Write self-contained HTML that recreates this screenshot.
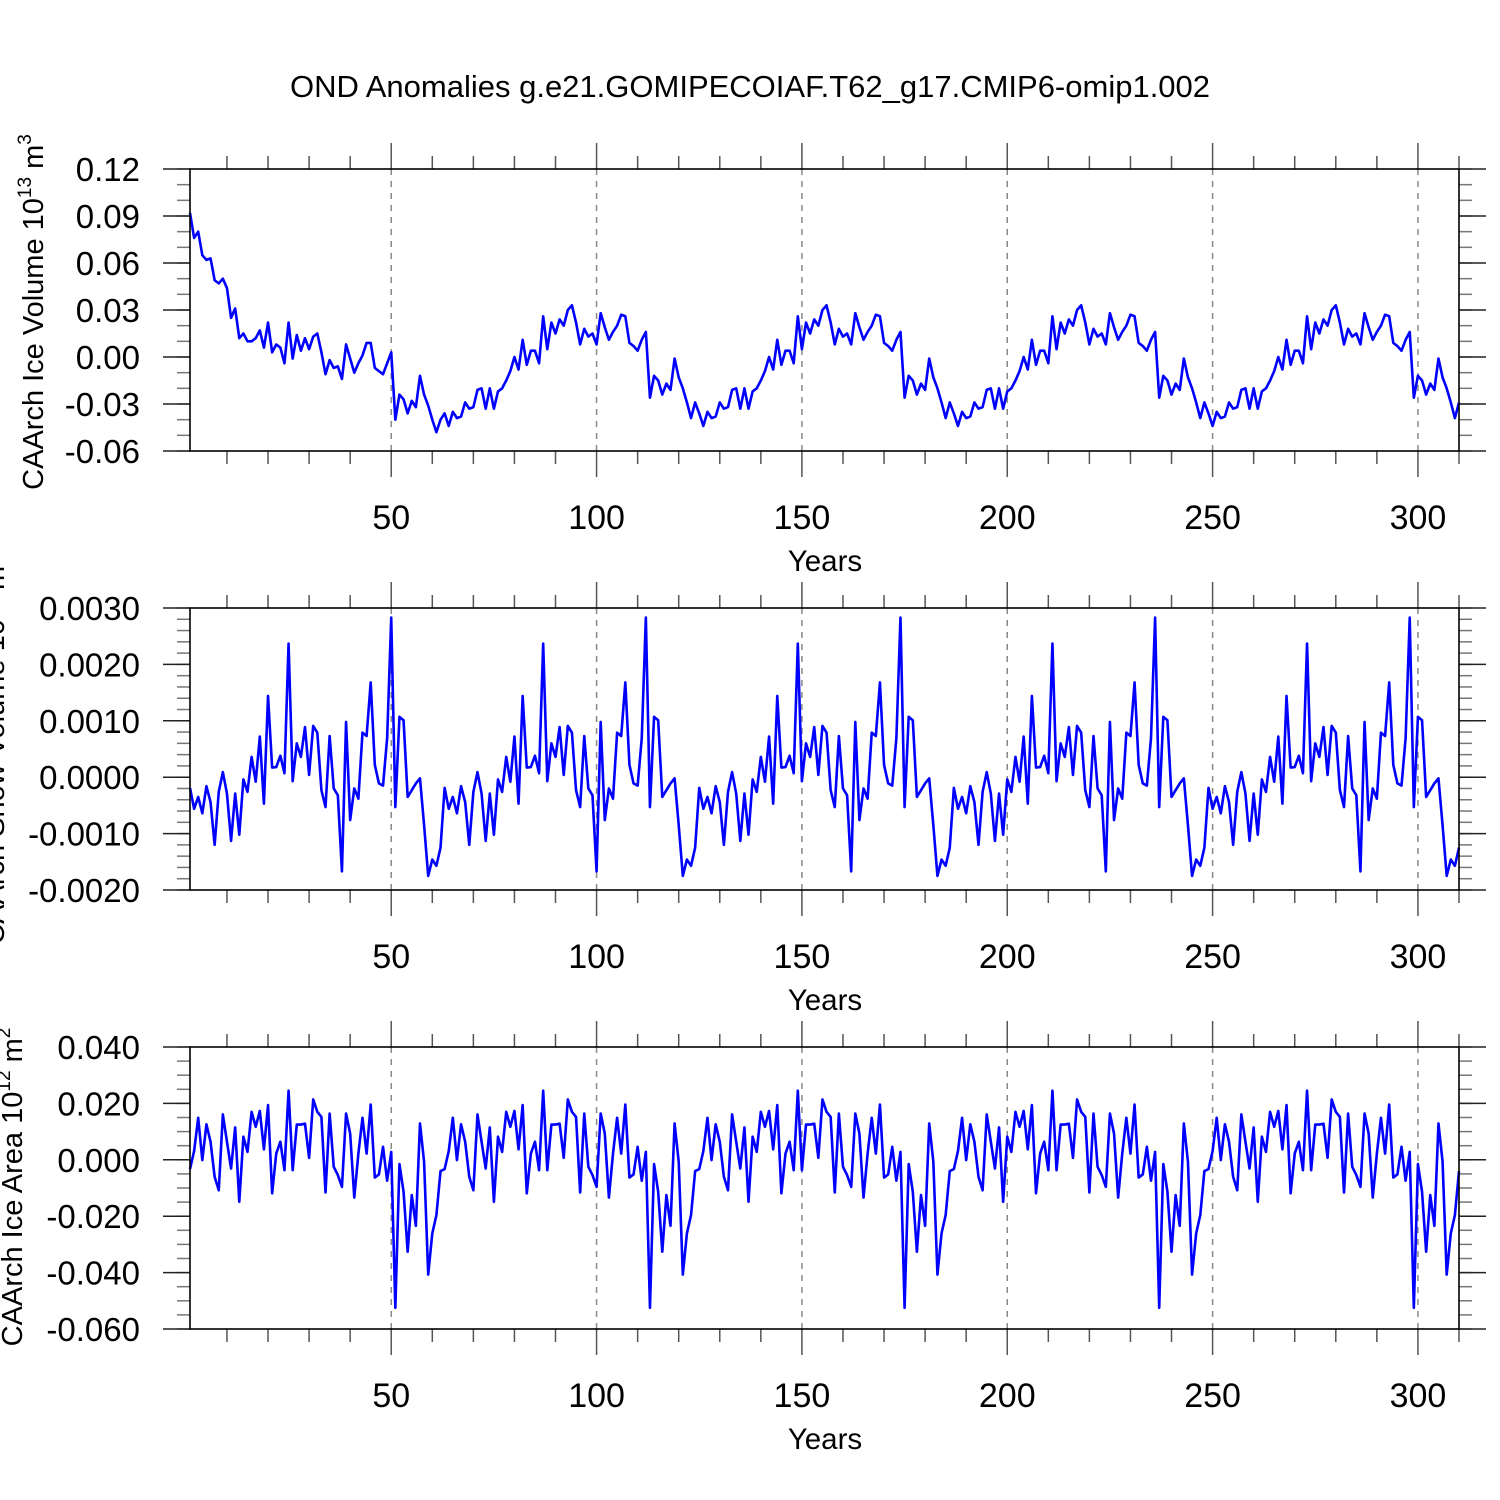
<!DOCTYPE html>
<html><head><meta charset="utf-8"><style>
html,body{margin:0;padding:0;background:#fff;}
svg{display:block;font-family:"Liberation Sans",Arial,sans-serif;}
</style></head><body>
<svg id="chart" width="1500" height="1500" viewBox="0 0 1500 1500" xmlns="http://www.w3.org/2000/svg">
<rect width="1500" height="1500" fill="#fff"/>
<text x="750" y="97" text-anchor="middle" font-size="31" fill="#000">OND Anomalies g.e21.GOMIPECOIAF.T62_g17.CMIP6-omip1.002</text>
</svg>
<script>
// ---- data ----
const years = Array.from({length:310},(_,i)=>i+1);
// Panel 1: ice volume (1e13 m^3), cycle 1 (years 1-62) and cycle 2 (years 63-124)
const iceVolCycle1 = [0.092,0.076,0.080,0.065,0.062,0.063,0.049,0.047,0.050,0.044,0.025,0.031,0.012,0.015,0.010,0.010,0.012,0.017,0.006,0.022,0.003,0.008,0.006,-0.004,0.022,-0.001,0.014,0.004,0.012,0.005,0.013,0.015,0.003,-0.011,-0.002,-0.007,-0.006,-0.014,0.008,-0.001,-0.010,-0.004,0.001,0.009,0.009,-0.007,-0.009,-0.011,-0.004,0.003,-0.040,-0.024,-0.027,-0.036,-0.028,-0.032,-0.012,-0.024,-0.031,-0.040,-0.048,-0.040];
const iceVolCycle2 = [-0.036,-0.044,-0.035,-0.039,-0.038,-0.029,-0.033,-0.032,-0.021,-0.020,-0.033,-0.020,-0.033,-0.022,-0.020,-0.015,-0.009,0.000,-0.008,0.011,-0.005,0.004,0.004,-0.004,0.026,0.005,0.022,0.015,0.024,0.020,0.030,0.033,0.022,0.008,0.018,0.013,0.015,0.008,0.028,0.019,0.011,0.016,0.020,0.027,0.026,0.009,0.007,0.004,0.011,0.016,-0.026,-0.012,-0.015,-0.024,-0.017,-0.021,-0.001,-0.013,-0.020,-0.029,-0.039,-0.029];
const iceVolume = [...iceVolCycle1, ...iceVolCycle2, ...iceVolCycle2, ...iceVolCycle2, ...iceVolCycle2];
// Panel 2: snow volume (units of 0.001 * 1e13 m^3), 62-year forcing cycle
const snowCycle = [-0.19,-0.56,-0.35,-0.64,-0.16,-0.44,-1.20,-0.26,0.09,-0.29,-1.13,-0.29,-1.02,-0.04,-0.26,0.36,-0.08,0.72,-0.47,1.44,0.17,0.18,0.38,0.07,2.37,-0.07,0.60,0.36,0.89,0.04,0.91,0.79,-0.23,-0.53,0.73,-0.20,-0.32,-1.67,0.98,-0.76,-0.20,-0.38,0.79,0.73,1.68,0.22,-0.11,-0.15,0.69,2.83,-0.53,1.07,1.01,-0.35,-0.23,-0.11,-0.02,-0.85,-1.75,-1.46,-1.57,-1.25];
const snowVolume = [...snowCycle, ...snowCycle, ...snowCycle, ...snowCycle, ...snowCycle].map(v=>v*0.001);
// Panel 3: ice area (units of 0.01 * 1e12 m^2)
const areaCycle = [-0.33,0.31,1.49,-0.01,1.26,0.64,-0.60,-1.08,1.61,0.64,-0.31,1.15,-1.49,0.82,0.28,1.70,1.17,1.73,0.37,1.94,-1.19,0.22,0.64,-0.37,2.45,-0.37,1.25,1.25,1.28,0.07,2.14,1.70,1.52,-1.16,1.64,-0.25,-0.54,-0.96,1.64,0.93,-1.34,0.22,1.49,0.22,1.96,-0.63,-0.52,0.46,-0.74,0.28,-5.25,-0.15,-1.13,-3.26,-1.25,-2.34,1.29,-0.07,-4.07,-2.61,-1.96,-0.40];
const iceArea = [...areaCycle, ...areaCycle, ...areaCycle, ...areaCycle, ...areaCycle].map(v=>v*0.01);

const xTicks = [50,100,150,200,250,300];
const yTicks1 = [0.12,0.09,0.06,0.03,0.00,-0.03,-0.06];
const yLabels1 = ["0.12","0.09","0.06","0.03","0.00","-0.03","-0.06"];
const yTicks2 = [0.003,0.002,0.001,0,-0.001,-0.002];
const yLabels2 = ["0.0030","0.0020","0.0010","0.0000","-0.0010","-0.0020"];
const yTicks3 = [0.04,0.02,0,-0.02,-0.04,-0.06];
const yLabels3 = ["0.040","0.020","0.000","-0.020","-0.040","-0.060"];

const NS='http://www.w3.org/2000/svg';
const svg=document.getElementById('chart');
const L=190,R=1459,XMIN=1,XMAX=310;
function xs(v){return L+(v-XMIN)/(XMAX-XMIN)*(R-L);}
function mk(tag,attrs,parent){const e=document.createElementNS(NS,tag);for(const k in attrs)e.setAttribute(k,attrs[k]);(parent||svg).appendChild(e);return e;}

function panel(cfg){
  const g=mk('g',{});
  
  
  const T=cfg.top,B=cfg.bottom;
  const ys=v=>B-(v-cfg.ymin)/(cfg.ymax-cfg.ymin)*(B-T);
  xTicks.forEach(t=>{
    const gl=mk('line',{x1:xs(t),x2:xs(t),y1:T,y2:B,stroke:'#888','stroke-width':1.5,'stroke-dasharray':'6,6'},g);
    
    
  });
  for(let t=10;t<=310;t+=10){
    const major=t%50===0;
    const len=major?26:13;
    mk('line',{x1:xs(t),x2:xs(t),y1:T,y2:T-len,stroke:'#555','stroke-width':1.5},g);
    mk('line',{x1:xs(t),x2:xs(t),y1:B,y2:B+len,stroke:'#555','stroke-width':1.5},g);
  }
  for(let v=cfg.ymin;v<=cfg.ymax+1e-9;v+=cfg.minor){
    const y=ys(v);
    mk('line',{x1:L,x2:L-13,y1:y,y2:y,stroke:'#777','stroke-width':1.5},g);
    mk('line',{x1:R,x2:R+13,y1:y,y2:y,stroke:'#777','stroke-width':1.5},g);
  }
  cfg.yTicks.forEach((v,i)=>{
    const y=ys(v);
    mk('line',{x1:L,x2:L-27,y1:y,y2:y,stroke:'#222','stroke-width':1.5},g);
    mk('line',{x1:R,x2:R+27,y1:y,y2:y,stroke:'#222','stroke-width':1.5},g);
    const tx=mk('text',{x:140,y:y+12,'text-anchor':'end','font-size':33,fill:'#000'},g);
    tx.textContent=cfg.yLabels[i];
    
    
  });
  xTicks.forEach(t=>{
    const tx=mk('text',{x:xs(t),y:B+78,'text-anchor':'middle','font-size':34,fill:'#000'},g);
    tx.textContent=String(t);
    
    
  });
  const xt=mk('text',{x:825,y:B+120,'text-anchor':'middle','font-size':29.5,fill:'#000'},g);
  xt.textContent='Years';
  
  
  const d=cfg.data.map((v,i)=>(i?'L':'M')+xs(years[i]).toFixed(2)+','+ys(v).toFixed(2)).join('');
  const p=mk('path',{d:d,fill:'none',stroke:'#0000ff','stroke-width':2.6,'stroke-linejoin':'round'},g);
  
  
  const fr=mk('rect',{x:L,y:T,width:R-L,height:B-T,fill:'none',stroke:'#000','stroke-width':1.6},g);
  
  
  const yt=mk('text',{transform:`translate(${cfg.titleX},${cfg.titleY}) rotate(-90)`,'text-anchor':'middle','font-size':29,fill:'#000'},g);
  yt.innerHTML=cfg.title;
  
  
}

panel({name:'ice-volume-panel',top:169,bottom:451,ymin:-0.06,ymax:0.12,minor:0.01,yTicks:yTicks1,yLabels:yLabels1,data:iceVolume,
  titleX:43,titleY:312,title:'CAArch Ice Volume 10<tspan dy="-12" font-size="19">13</tspan><tspan dy="12"> m</tspan><tspan dy="-12" font-size="19">3</tspan>'});
panel({name:'snow-volume-panel',top:608,bottom:890,ymin:-0.002,ymax:0.003,minor:0.0002,yTicks:yTicks2,yLabels:yLabels2,data:snowVolume,
  titleX:4,titleY:750,title:'CAArch Snow Volume 10<tspan dy="-12" font-size="19">13</tspan><tspan dy="12"> m</tspan><tspan dy="-12" font-size="19">3</tspan>'});
panel({name:'ice-area-panel',top:1047,bottom:1329,ymin:-0.06,ymax:0.04,minor:0.005,yTicks:yTicks3,yLabels:yLabels3,data:iceArea,
  titleX:22,titleY:1187,title:'CAArch Ice Area 10<tspan dy="-12" font-size="19">12</tspan><tspan dy="12"> m</tspan><tspan dy="-12" font-size="19">2</tspan>'});
</script>
</body></html>
